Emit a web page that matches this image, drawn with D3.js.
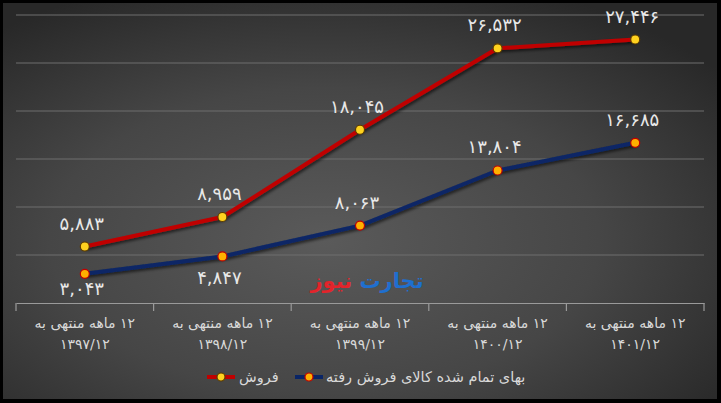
<!DOCTYPE html>
<html>
<head>
<meta charset="utf-8">
<script src="https://cdn.jsdelivr.net/npm/d3@7"></script>
<style>
  html, body { margin: 0; padding: 0; background: #000; }
  svg { display: block; font-family: "DejaVu Sans", sans-serif; }
</style>
</head>
<body>
<svg id="chart" width="721" height="403"></svg>
<script>
// chart data (values in the source units)
const categories = ["۱۳۹۷/۱۲", "۱۳۹۸/۱۲", "۱۳۹۹/۱۲", "۱۴۰۰/۱۲", "۱۴۰۱/۱۲"];
const categoryPrefix = "۱۲ ماهه منتهی به";
const sales = [5883, 8959, 18045, 26532, 27446];
const costOfSales = [3043, 4847, 8063, 13804, 16685];
const seriesNames = ["فروش", "بهای تمام شده کالای فروش رفته"];
const yTicks = [0, 5000, 10000, 15000, 20000, 25000, 30000];

const svg = d3.select("#chart");
const W = 721, H = 403;
const margin = { top: 15, right: 17, bottom: 100, left: 16 };

// persian digits
const fa = s => String(s).replace(/[0-9]/g, d => "۰۱۲۳۴۵۶۷۸۹"[+d]);
const fmt = v => fa(d3.format(",")(v));

const defs = svg.append("defs");
const bg = defs.append("radialGradient").attr("id", "bg")
  .attr("cx", "45%").attr("cy", "60%").attr("r", "70%");
bg.append("stop").attr("offset", "0%").attr("stop-color", "#5a5a5a");
bg.append("stop").attr("offset", "55%").attr("stop-color", "#464646");
bg.append("stop").attr("offset", "100%").attr("stop-color", "#282828");

const sh = defs.append("filter").attr("id", "shadow")
  .attr("x", "-10%").attr("y", "-10%").attr("width", "120%").attr("height", "130%");
sh.append("feDropShadow").attr("dx", 1.5).attr("dy", 2).attr("stdDeviation", 1.5)
  .attr("flood-color", "#000").attr("flood-opacity", 0.6);

svg.append("rect").attr("width", W).attr("height", H).attr("fill", "#000");
svg.append("rect").attr("x", 3).attr("y", 3).attr("width", 714).attr("height", 396)
  .attr("fill", "url(#bg)");

const x = d3.scaleBand().domain(categories)
  .range([margin.left, W - margin.right]);
const y = d3.scaleLinear().domain([0, 30000])
  .range([H - margin.bottom, margin.top]);

// grid
svg.append("g").selectAll("line").data(yTicks.slice(1)).join("line")
  .attr("x1", margin.left).attr("x2", W - margin.right)
  .attr("y1", d => y(d)).attr("y2", d => y(d))
  .attr("stroke", "#6e6e6e").attr("stroke-width", 1);

// x axis
const xAxis = svg.append("g")
  .attr("transform", `translate(0,${y(0)})`)
  .call(d3.axisBottom(x).tickSize(0).tickFormat(""));
xAxis.select(".domain").attr("stroke", "#9a9a9a").attr("stroke-width", 1.2);
const bounds = [margin.left, ...categories.map(c => x(c) + x.bandwidth())];
xAxis.selectAll(".sep").data(bounds).join("line").attr("class", "sep")
  .attr("x1", d => d).attr("x2", d => d).attr("y1", 0).attr("y2", 8)
  .attr("stroke", "#9a9a9a").attr("stroke-width", 1.2);

const catLabels = svg.append("g").selectAll("text").data(categories).join("text")
  .attr("x", d => x(d) + x.bandwidth() / 2)
  .attr("text-anchor", "middle")
  .attr("direction", "rtl")
  .attr("fill", "#d9d9d9").attr("font-size", 14);
catLabels.append("tspan").attr("x", d => x(d) + x.bandwidth() / 2)
  .attr("y", 328).text(categoryPrefix);
catLabels.append("tspan").attr("x", d => x(d) + x.bandwidth() / 2)
  .attr("y", 349).text(d => d);

// watermark
const wm = svg.append("text").attr("x", 367).attr("y", 288)
  .attr("text-anchor", "middle").attr("direction", "rtl")
  .attr("font-size", 21).attr("font-weight", "bold");
wm.append("tspan").attr("fill", "#1f6fcf").text("تجارت ");
wm.append("tspan").attr("fill", "#e3242b").text("نیوز");

// series
const series = [
  { name: seriesNames[0], values: sales, color: "#c00000", fill: "#ffd21f", edge: "#5b3b00",
    pos: ["above", "above", "above", "above", "above"] },
  { name: seriesNames[1], values: costOfSales, color: "#0a2566", fill: "#ffb000", edge: "#c00000",
    pos: ["below", "below", "above", "above", "above"] }
];

const line = d3.line()
  .x((d, i) => x(categories[i]) + x.bandwidth() / 2)
  .y(d => y(d));

series.forEach(s => {
  const g = svg.append("g");
  g.append("path").datum(s.values)
    .attr("d", line).attr("fill", "none")
    .attr("stroke", s.color).attr("stroke-width", 4)
    .attr("stroke-linejoin", "round").attr("filter", "url(#shadow)");
  g.selectAll("circle").data(s.values).join("circle")
    .attr("cx", (d, i) => x(categories[i]) + x.bandwidth() / 2)
    .attr("cy", d => y(d)).attr("r", 4.5)
    .attr("fill", s.fill).attr("stroke", s.edge).attr("stroke-width", 1.2);
  g.selectAll("text").data(s.values).join("text")
    .attr("x", (d, i) => x(categories[i]) + x.bandwidth() / 2 - 3)
    .attr("y", (d, i) => s.pos[i] === "above" ? y(d) - 17 : y(d) + (i === 0 ? 21 : 28))
    .attr("text-anchor", "middle")
    .attr("fill", "#e8e8e8").attr("font-size", 18)
    .text(d => fmt(d));
});

// legend
const legend = svg.append("g").attr("transform", "translate(0,377)");
const items = [
  { s: series[0], x0: 207, tx: 239 },
  { s: series[1], x0: 295, tx: 326 }
];
items.forEach(it => {
  legend.append("line").attr("x1", it.x0).attr("x2", it.x0 + 28)
    .attr("stroke", it.s.color).attr("stroke-width", 4);
  legend.append("circle").attr("cx", it.x0 + 14).attr("r", 4)
    .attr("fill", it.s.fill).attr("stroke", it.s.edge).attr("stroke-width", 1.2);
  legend.append("text").attr("x", it.tx).attr("y", 5)
    .attr("text-anchor", "end").attr("direction", "rtl")
    .attr("fill", "#d9d9d9").attr("font-size", 14.5)
    .text(it.s.name);
});
</script>
</body>
</html>
